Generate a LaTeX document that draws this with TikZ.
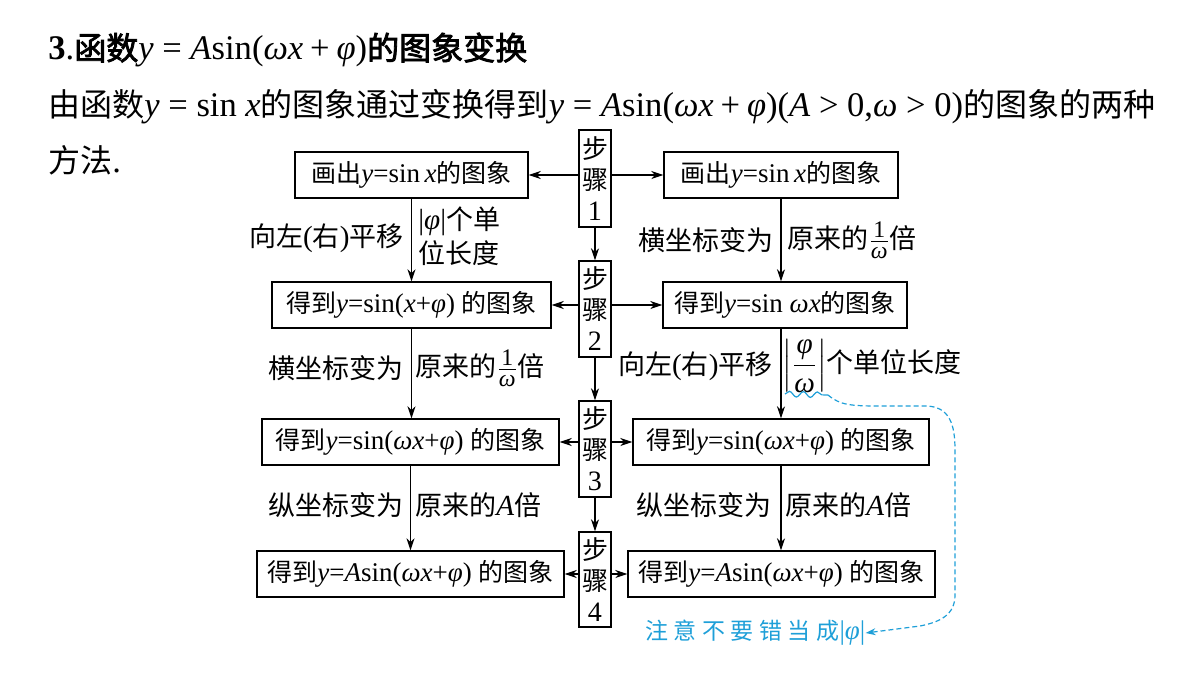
\documentclass[tikz,border=0pt]{standalone}
\usepackage{amsmath}
\usepackage{fontspec}
\setmainfont{Liberation Serif}[Scale=1.08]
\newfontfamily\cjk{Noto Sans CJK SC}
\newfontfamily\cjkhead[FakeBold=2.5]{Noto Sans CJK SC}
\newfontfamily\cjknote[LetterSpace=24]{Noto Sans CJK SC}
\usetikzlibrary{arrows.meta,decorations.pathmorphing,positioning}
\definecolor{cNote}{HTML}{1E9FD8}
\newcommand{\mi}[1]{\textit{#1}}
\newcommand{\rel}[1]{\hspace{.25em}#1\hspace{.25em}}
\newcommand{\bin}[1]{\hspace{.2em}#1\hspace{.2em}}
\newcommand{\fracpart}[1]{\text{\fontsize{11}{11}\selectfont #1}}
\newcommand{\invw}{$\frac{\fracpart{1}}{\fracpart{\itshape ω}}$}
\newcommand{\absfw}{$\left|\dfrac{\text{\itshape φ}}{\text{\itshape ω}}\right|$}
\tikzset{
  box/.style={draw,line width=.7pt,inner sep=0pt,minimum height=23pt,font=\fontsize{12.5}{15}\selectfont},
  stepbox/.style={draw,line width=.7pt,inner sep=0pt,minimum width=16pt,align=center,font=\fontsize{13}{15.5}\selectfont},
  lbl/.style={inner sep=0pt,align=left,font=\fontsize{13.5}{17}\selectfont},
  txt/.style={anchor=west,inner sep=0pt,font=\fontsize{16}{20}\selectfont},
  arr/.style={-{Stealth[length=6pt,width=4pt]},line width=.7pt},
  note/.style={cNote,line width=.6pt},
}

\begin{document}
\begin{tikzpicture}[x=0.5pt,y=-0.5pt]
  \useasboundingbox (0,0) rectangle (1200,675);
  % ---------------- heading
  \node[txt] (title) at (48,50) {{\bfseries 3}.{\cjkhead 函数}\mi{y}\rel{=}\mi{A}sin(\mi{ωx}\bin{+}\mi{φ}){\cjkhead 的图象变换}};
  \node[txt] (line2) at (48,107) {{\cjk 由函数}\mi{y}\rel{=}sin \mi{x}{\cjk 的图象通过变换得到}\mi{y}\rel{=}\mi{A}sin(\mi{ωx}\bin{+}\mi{φ})(\mi{A}\rel{>}0,\mi{ω}\rel{>}0){\cjk 的图象的两种}};
  \node[txt] (line3) at (48,160) {{\cjk 方法}.};
  % ---------------- steps
  \node[stepbox,minimum height=48.5pt] (s1) at (595,178.5) {{\cjk 步}\\{\cjk 骤}\\1};
  \node[stepbox,minimum height=48pt] (s2) at (595,309) {{\cjk 步}\\{\cjk 骤}\\2};
  \node[stepbox,minimum height=48pt] (s3) at (595,449) {{\cjk 步}\\{\cjk 骤}\\3};
  \node[stepbox,minimum height=47.5pt] (s4) at (595,579.5) {{\cjk 步}\\{\cjk 骤}\\4};
  \draw[arr] (s1) -- (s2);
  \draw[arr] (s2) -- (s3);
  \draw[arr] (s3) -- (s4);
  % ---------------- left column: shift first
  \node[box,minimum width=116.5pt] (l1) at (411.5,175) {{\cjk 画出}\mi{y}=sin\,\mi{x}{\cjk 的图象}};
  \node[box,minimum width=139.5pt] (l2) at (411.5,305) {{\cjk 得到}\mi{y}=sin(\mi{x}+\mi{φ}) {\cjk 的图象}};
  \node[box,minimum width=148.5pt] (l3) at (410.5,442) {{\cjk 得到}\mi{y}=sin(\mi{ωx}+\mi{φ}) {\cjk 的图象}};
  \node[box,minimum width=153.5pt] (l4) at (410.5,574) {{\cjk 得到}\mi{y}=\mi{A}sin(\mi{ωx}+\mi{φ}) {\cjk 的图象}};
  \draw[arr] (l1.south) -- (l1.south |- l2.north);
  \draw[arr] (l2.south) -- (l2.south |- l3.north);
  \draw[arr] (l3.south) -- (l3.south |- l4.north);
  \node[lbl,anchor=east] (la1) at (404,238) {{\cjk 向左}({\cjk 右}){\cjk 平移}};
  \node[lbl,anchor=west] (lb1) at (418,236) {|\mi{φ}|{\cjk 个单}\\{\cjk 位长度}};
  \node[lbl,anchor=east] (la2) at (404,368) {\cjk 横坐标变为};
  \node[lbl,anchor=west] (lb2) at (415,368) {{\cjk 原来的}\invw{\cjk 倍}};
  \node[lbl,anchor=east] (la3) at (404,505) {\cjk 纵坐标变为};
  \node[lbl,anchor=west] (lb3) at (415,505) {{\cjk 原来的}\mi{A}{\cjk 倍}};
  % ---------------- right column: stretch first
  \node[box,minimum width=117pt] (r1) at (781,175) {{\cjk 画出}\mi{y}=sin\,\mi{x}{\cjk 的图象}};
  \node[box,minimum width=122pt] (r2) at (785,305) {{\cjk 得到}\mi{y}=sin \mi{ωx}{\cjk 的图象}};
  \node[box,minimum width=148pt] (r3) at (781,442) {{\cjk 得到}\mi{y}=sin(\mi{ωx}+\mi{φ}) {\cjk 的图象}};
  \node[box,minimum width=153.5pt] (r4) at (781.5,574) {{\cjk 得到}\mi{y}=\mi{A}sin(\mi{ωx}+\mi{φ}) {\cjk 的图象}};
  \draw[arr] (r1.south) -- (r1.south |- r2.north);
  \draw[arr] (r1.south |- r2.south) -- (r1.south |- r3.north);
  \draw[arr] (r3.south) -- (r3.south |- r4.north);
  \node[lbl,anchor=east] (ra1) at (774,240) {\cjk 横坐标变为};
  \node[lbl,anchor=west] (rb1) at (787,240) {{\cjk 原来的}\invw{\cjk 倍}};
  \node[lbl,anchor=east] (ra2) at (773,366) {{\cjk 向左}({\cjk 右}){\cjk 平移}};
  \node[lbl,anchor=west] (rb2) at (782,366) {\absfw{\cjk 个单位长度}};
  \node[lbl,anchor=east] (ra3) at (772,505) {\cjk 纵坐标变为};
  \node[lbl,anchor=west] (rb3) at (785,505) {{\cjk 原来的}\mi{A}{\cjk 倍}};
  % ---------------- step arrows to both sides
  \foreach \i in {1,...,4}{
    \draw[arr] (s\i.west |- l\i.east) -- (l\i.east);
    \draw[arr] (s\i.east |- r\i.west) -- (r\i.west);
  }
  % ---------------- the note
  \node[anchor=west,inner sep=0pt,cNote,font=\fontsize{11.5}{13}\selectfont] (warn) at (645,633) {{\cjknote 注意不要错当成}\fontsize{12.5}{13}\selectfont|\mi{φ}|};
  \coordinate (w0) at (785,394);
  \coordinate (w1) at (828,395);
  \draw[note,decorate,decoration={snake,amplitude=1.4pt,segment length=7pt}] (w0) -- (w1);
  \draw[note,dash pattern=on 2.5pt off 1.5pt,-{Stealth[length=5pt,width=3.5pt]}] (w1) .. controls (840,405) and (850,406) .. (880,406) -- (925,406) .. controls (950,406) and (955,425) .. (955,450) -- (955,595) .. controls (955,615) and (940,622) .. (920,626) -- (warn.east);
\end{tikzpicture}
\end{document}
